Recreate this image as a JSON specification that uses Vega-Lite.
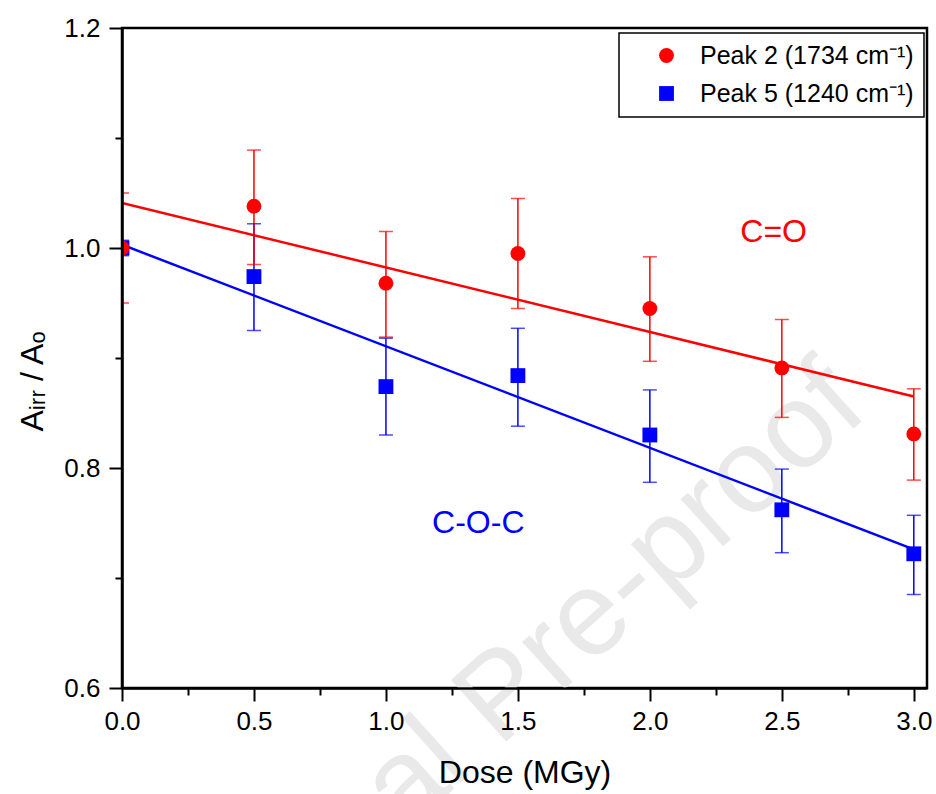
{
  "$schema": "https://vega.github.io/schema/vega-lite/v6.json",
  "width": 805,
  "height": 660,
  "autosize": "none",
  "padding": {"left": 122, "top": 28, "right": 9, "bottom": 106},
  "background": "white",
  "config": {
    "font": "Liberation Sans",
    "view": {"stroke": "black", "strokeWidth": 2.5},
    "axis": {
      "grid": false,
      "zindex": 2,
      "domainColor": "black",
      "domainWidth": 2.5,
      "tickColor": "black",
      "tickWidth": 2,
      "labelColor": "black",
      "labelFontSize": 26,
      "titleColor": "black",
      "titleFontSize": 32,
      "titleFontWeight": "normal"
    },
    "legend": {
      "labelFontSize": 25,
      "labelColor": "black",
      "labelLimit": 400,
      "symbolSize": 220,
      "symbolOffset": 25,
      "labelOffset": 21,
      "rowPadding": 12,
      "padding": 10,
      "strokeColor": "black",
      "strokeWidth": 1.5,
      "fillColor": "white"
    }
  },
  "datasets": {
    "points": [
      {"series": "P5", "dose": 0.0, "value": 1.000, "lo": 0.993, "hi": 1.007},
      {"series": "P5", "dose": 0.5, "value": 0.974, "lo": 0.925, "hi": 1.022},
      {"series": "P5", "dose": 1.0, "value": 0.874, "lo": 0.830, "hi": 0.918},
      {"series": "P5", "dose": 1.5, "value": 0.884, "lo": 0.838, "hi": 0.927},
      {"series": "P5", "dose": 2.0, "value": 0.830, "lo": 0.787, "hi": 0.871},
      {"series": "P5", "dose": 2.5, "value": 0.762, "lo": 0.723, "hi": 0.799},
      {"series": "P5", "dose": 3.0, "value": 0.722, "lo": 0.685, "hi": 0.757},
      {"series": "P2", "dose": 0.0, "value": 1.000, "lo": 0.950, "hi": 1.050},
      {"series": "P2", "dose": 0.5, "value": 1.038, "lo": 0.985, "hi": 1.089},
      {"series": "P2", "dose": 1.0, "value": 0.968, "lo": 0.919, "hi": 1.015},
      {"series": "P2", "dose": 1.5, "value": 0.995, "lo": 0.945, "hi": 1.045},
      {"series": "P2", "dose": 2.0, "value": 0.945, "lo": 0.897, "hi": 0.992},
      {"series": "P2", "dose": 2.5, "value": 0.891, "lo": 0.846, "hi": 0.935},
      {"series": "P2", "dose": 3.0, "value": 0.831, "lo": 0.789, "hi": 0.872}
    ],
    "fits": [
      {"series": "P2", "dose": 0.0, "value": 1.041},
      {"series": "P2", "dose": 3.0, "value": 0.865},
      {"series": "P5", "dose": 0.0, "value": 1.003},
      {"series": "P5", "dose": 3.0, "value": 0.726}
    ],
    "notes": [
      {"series": "P2", "label": "C=O", "dose": 2.469, "value": 1.0145},
      {"series": "P5", "label": "C-O-C", "dose": 1.35, "value": 0.75}
    ],
    "mark": [
      {"label": "Journal Pre-proof", "dose": 1.44, "value": 0.592}
    ]
  },
  "layer": [
    {
      "data": {"name": "mark"},
      "mark": {"type": "text", "angle": -42, "fontSize": 120, "color": "#e9e9e9", "align": "center", "baseline": "middle", "clip": false},
      "encoding": {
        "x": {"field": "dose", "type": "quantitative", "scale": {"domain": [0, 3.05], "nice": false, "zero": false}},
        "y": {"field": "value", "type": "quantitative", "scale": {"domain": [0.6, 1.2], "nice": false, "zero": false}},
        "text": {"field": "label"}
      }
    },
    {
      "data": {"name": "fits"},
      "mark": {"type": "line", "strokeWidth": 2.5, "clip": true},
      "encoding": {
        "x": {"field": "dose", "type": "quantitative"},
        "y": {"field": "value", "type": "quantitative"},
        "stroke": {"field": "series", "type": "nominal", "scale": {"range": ["#ff0000", "#0000ff"]}, "legend": null},
        "detail": {"field": "series"}
      }
    },
    {
      "data": {"name": "points"},
      "mark": {"type": "rule", "strokeWidth": 1.5, "clip": true},
      "encoding": {
        "x": {"field": "dose", "type": "quantitative"},
        "y": {"field": "lo", "type": "quantitative"},
        "y2": {"field": "hi"},
        "stroke": {"field": "series", "type": "nominal", "legend": null}
      }
    },
    {
      "data": {"name": "points"},
      "mark": {"type": "tick", "orient": "horizontal", "size": 14, "thickness": 1.5, "clip": true},
      "encoding": {
        "x": {"field": "dose", "type": "quantitative"},
        "y": {"field": "lo", "type": "quantitative"},
        "fill": {"field": "series", "type": "nominal", "scale": {"range": ["#ff0000", "#0000ff"]}, "legend": null}
      }
    },
    {
      "data": {"name": "points"},
      "mark": {"type": "tick", "orient": "horizontal", "size": 14, "thickness": 1.5, "clip": true},
      "encoding": {
        "x": {"field": "dose", "type": "quantitative"},
        "y": {"field": "hi", "type": "quantitative"},
        "fill": {"field": "series", "type": "nominal", "legend": null}
      }
    },
    {
      "data": {"name": "points"},
      "mark": {"type": "point", "filled": true, "opacity": 1, "size": 220, "clip": true},
      "encoding": {
        "x": {
          "field": "dose", "type": "quantitative",
          "axis": {
            "title": "Dose (MGy)",
            "zindex": 2,
            "values": [0, 0.25, 0.5, 0.75, 1, 1.25, 1.5, 1.75, 2, 2.25, 2.5, 2.75, 3],
            "labelExpr": "abs(datum.value*2-round(datum.value*2))<0.001 ? format(datum.value, '.1f') : ''",
            "tickSize": {"condition": {"test": "abs(datum.value*2-round(datum.value*2))<0.001", "value": 13}, "value": 7},
            "labelPadding": 7,
            "labelFlush": false,
            "titleY": 84,
            "titleBaseline": "middle"
          }
        },
        "y": {
          "field": "value", "type": "quantitative",
          "axis": {
            "title": "Aᵢᵣᵣ / Aₒ",
            "zindex": 2,
            "values": [0.6, 0.7, 0.8, 0.9, 1.0, 1.1, 1.2],
            "labelExpr": "abs(datum.value*5-round(datum.value*5))<0.001 ? format(datum.value, '.1f') : ''",
            "tickSize": {"condition": {"test": "abs(datum.value*5-round(datum.value*5))<0.001", "value": 13}, "value": 7},
            "labelPadding": 9,
            "labelFlush": false,
            "titleX": -90,
            "titleY": 353,
            "titleAlign": "center",
            "titleBaseline": "middle"
          }
        },
        "color": {
          "field": "series", "type": "nominal",
          "scale": {"domain": ["P2", "P5"], "range": ["#ff0000", "#0000ff"]},
          "legend": {
            "title": null,
            "orient": "none",
            "legendX": 497,
            "legendY": 5,
            "labelExpr": "datum.value == 'P2' ? 'Peak 2 (1734 cm⁻¹)' : 'Peak 5 (1240 cm⁻¹)'"
          }
        },
        "shape": {
          "field": "series", "type": "nominal",
          "scale": {"domain": ["P2", "P5"], "range": ["circle", "square"]},
          "legend": {
            "title": null,
            "orient": "none",
            "legendX": 497,
            "legendY": 5,
            "labelExpr": "datum.value == 'P2' ? 'Peak 2 (1734 cm⁻¹)' : 'Peak 5 (1240 cm⁻¹)'"
          }
        }
      }
    },
    {
      "data": {"name": "notes"},
      "mark": {"type": "text", "fontSize": 32, "align": "center", "baseline": "middle"},
      "encoding": {
        "x": {"field": "dose", "type": "quantitative"},
        "y": {"field": "value", "type": "quantitative"},
        "text": {"field": "label"},
        "fill": {"field": "series", "type": "nominal", "legend": null}
      }
    }
  ]
}
